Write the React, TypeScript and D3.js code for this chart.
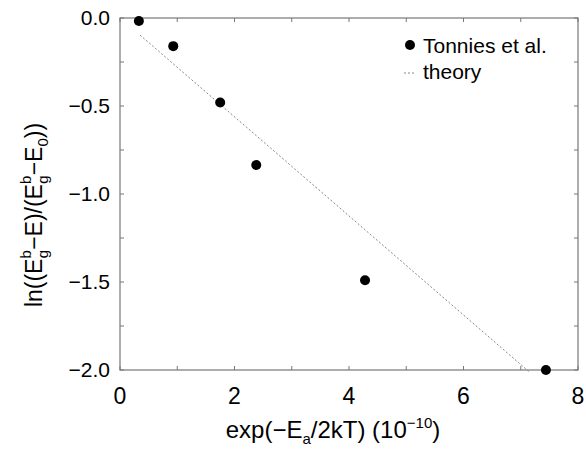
import React from "react";
import * as d3 from "d3";

const expX: number[] = [0.33, 0.93, 1.75, 2.38, 4.28, 7.44];
const lnY: number[] = [-0.017, -0.16, -0.48, -0.835, -1.49, -2.0];
const theoryX: number[] = [0.35, 7.14];
const theorySlope = -0.2815;
const theoryIntercept = 0.0015;
const xTicks: number[] = [0, 2, 4, 6, 8];
const xMinor: number[] = [1, 3, 5, 7];
const yTicks: number[] = [0, -0.5, -1.0, -1.5, -2.0];
const yMinor: number[] = [-0.25, -0.75, -1.25, -1.75];

export default function App() {
  const W = 586, H = 452;
  const L = 120, R = 578, T = 18, B = 370;
  const x = d3.scaleLinear().domain([0, 8]).range([L, R]);
  const y = d3.scaleLinear().domain([-2, 0]).range([B, T]);
  const font = "'Liberation Sans', Arial, Helvetica, sans-serif";
  const frame = "#777";
  const line = d3.line<number>().x(d => x(d)).y(d => y(theoryIntercept + theorySlope * d));
  return (
    <svg width={W} height={H} style={{ position: "absolute", left: 0, top: 0 }} fontFamily={font}>
      <rect width={W} height={H} fill="#fff" />
      <rect x={L} y={T} width={R - L} height={B - T} fill="none" stroke={frame} strokeWidth={1.2} />
      {[...xTicks, ...xMinor].map(t => (
        <g key={"xt" + t}>
          <line x1={x(t)} x2={x(t)} y1={B} y2={B - 4} stroke={frame} />
          <line x1={x(t)} x2={x(t)} y1={T} y2={T + 4} stroke={frame} />
        </g>
      ))}
      {[...yTicks, ...yMinor].map(t => (
        <g key={"yt" + t}>
          <line x1={L} x2={L + 4} y1={y(t)} y2={y(t)} stroke={frame} />
          <line x1={R} x2={R - 4} y1={y(t)} y2={y(t)} stroke={frame} />
        </g>
      ))}
      {xTicks.map(t => (
        <text key={"xl" + t} x={x(t)} y={B + 34} fontSize={23} textAnchor="middle" fill="#000">{t}</text>
      ))}
      {yTicks.map(t => (
        <text key={"yl" + t} x={110} y={y(t) + 7} fontSize={21} textAnchor="end" fill="#000">
          {t === 0 ? "0.0" : "\u2212" + Math.abs(t).toFixed(1)}
        </text>
      ))}
      <path d={line(theoryX) || ""} fill="none" stroke="#888" strokeWidth={1} strokeDasharray="2,2" />
      {expX.map((v, i) => (
        <circle key={"p" + i} cx={x(v)} cy={y(lnY[i])} r={5} fill="#000" />
      ))}
      <circle cx={410} cy={45} r={5} fill="#000" />
      <text x={423} y={53} fontSize={21} fill="#000">Tonnies et al.</text>
      <line x1={404} x2={416} y1={73} y2={73} stroke="#888" strokeDasharray="2,2" />
      <text x={423} y={79} fontSize={21} fill="#000">theory</text>
      <text x={333} y={438} fontSize={24} textAnchor="middle" fill="#000">
        exp(−E<tspan fontSize={15} dy={6}>a</tspan><tspan dy={-6}>/2kT) (10</tspan>
        <tspan fontSize={15} dy={-10}>−10</tspan><tspan dy={10}>)</tspan>
      </text>
      <text transform={`translate(42,215) rotate(-90)`} fontSize={23} textAnchor="middle" fill="#000">
        ln((E<tspan fontSize={15} dy={-11}>b</tspan><tspan fontSize={15} dx={-8} dy={17}>g</tspan>
        <tspan dy={-6}>−E)/(E</tspan><tspan fontSize={15} dy={-11}>b</tspan><tspan fontSize={15} dx={-8} dy={17}>g</tspan>
        <tspan dy={-6}>−E</tspan><tspan fontSize={15} dy={6}>0</tspan><tspan dy={-6}>))</tspan>
      </text>
    </svg>
  );
}
